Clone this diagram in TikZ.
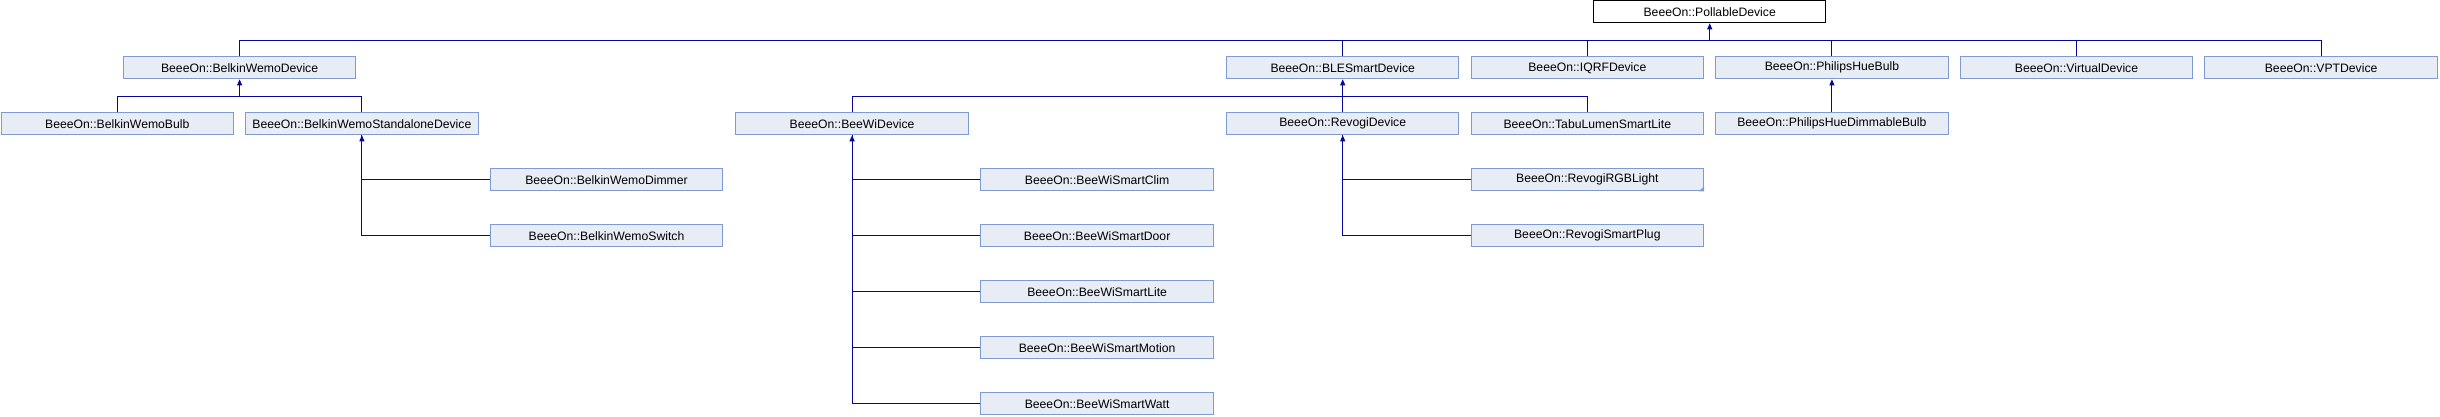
\documentclass[tikz,border=0pt]{standalone}
\usepackage{fontspec}
\setmainfont{Liberation Sans}
\usepackage{tikz}
\usetikzlibrary{arrows.meta}
\definecolor{kfill}{HTML}{E8ECF5}
\definecolor{krand}{HTML}{7F9AD0}
\definecolor{linie}{HTML}{06069C}
\tikzset{
  klasse/.style={draw=krand,fill=kfill,line width=1pt,minimum width=232.5pt,minimum height=22pt,inner sep=0pt,
    font=\fontsize{12.2}{14}\selectfont},
  basis/.style={klasse,draw=black,fill=white},
  verb/.style={linie,line width=1pt},
  erbt/.style={verb,-{Triangle[length=6pt,width=5pt]}},
}
\begin{document}
\begin{tikzpicture}[x=1pt,y=-1pt]
  \useasboundingbox (0,0) rectangle (2440,416);
  % Basisklasse
  \node[basis] (PollableDevice) at (1709.7,11.8) {BeeeOn::PollableDevice};
  % erste Ebene
  \node[klasse] (BelkinWemoDevice) at (239.6,67.8) {BeeeOn::BelkinWemoDevice};
  \node[klasse] (BLESmartDevice) at (1342.7,67.8) {BeeeOn::BLESmartDevice};
  \node[klasse] (IQRFDevice) at (1587.3,67.8) {BeeeOn::IQRFDevice};
  \node[klasse] (PhilipsHueBulb) at (1831.9,67.8) {BeeeOn::PhilipsHueBulb};
  \node[klasse] (VirtualDevice) at (2076.5,67.8) {BeeeOn::VirtualDevice};
  \node[klasse] (VPTDevice) at (2321.1,67.8) {BeeeOn::VPTDevice};
  % zweite Ebene
  \node[klasse] (BelkinWemoBulb) at (117.3,123.8) {BeeeOn::BelkinWemoBulb};
  \node[klasse] (BelkinWemoStandaloneDevice) at (361.9,123.8) {BeeeOn::BelkinWemoStandaloneDevice};
  \node[klasse] (BeeWiDevice) at (852.1,123.8) {BeeeOn::BeeWiDevice};
  \node[klasse] (RevogiDevice) at (1342.7,123.8) {BeeeOn::RevogiDevice};
  \node[klasse] (TabuLumenSmartLite) at (1587.3,123.8) {BeeeOn::TabuLumenSmartLite};
  \node[klasse] (PhilipsHueDimmableBulb) at (1831.9,123.8) {BeeeOn::PhilipsHueDimmableBulb};
  % Blaetter
  \node[klasse] (BelkinWemoDimmer) at (606.5,179.8) {BeeeOn::BelkinWemoDimmer};
  \node[klasse] (BelkinWemoSwitch) at (606.5,235.8) {BeeeOn::BelkinWemoSwitch};
  \node[klasse] (BeeWiSmartClim) at (1097.1,179.8) {BeeeOn::BeeWiSmartClim};
  \node[klasse] (BeeWiSmartDoor) at (1097.1,235.8) {BeeeOn::BeeWiSmartDoor};
  \node[klasse] (BeeWiSmartLite) at (1097.1,291.8) {BeeeOn::BeeWiSmartLite};
  \node[klasse] (BeeWiSmartMotion) at (1097.1,347.8) {BeeeOn::BeeWiSmartMotion};
  \node[klasse] (BeeWiSmartWatt) at (1097.1,403.8) {BeeeOn::BeeWiSmartWatt};
  \node[klasse] (RevogiRGBLight) at (1587.3,179.8) {BeeeOn::RevogiRGBLight};
  \node[klasse] (RevogiSmartPlug) at (1587.3,235.8) {BeeeOn::RevogiSmartPlug};
  \fill[krand] (RevogiRGBLight.south east) -- ++(-5,0) -- ++(5,-5) -- cycle;
  % Sammelschienen
  \coordinate (busPoll) at (1709.7,40.3);
  \coordinate (busBelkin) at (239.6,96.3);
  \coordinate (busBLE) at (1342.7,96.3);
  % Vererbung PollableDevice
  \draw[erbt] (busPoll) -- (PollableDevice);
  \foreach \k in {BelkinWemoDevice,BLESmartDevice,IQRFDevice,PhilipsHueBulb,VirtualDevice,VPTDevice}
    \draw[verb] (\k) |- (busPoll);
  % Vererbung BelkinWemoDevice
  \draw[erbt] (busBelkin) -- (BelkinWemoDevice);
  \draw[verb] (BelkinWemoBulb) |- (busBelkin);
  \draw[verb] (BelkinWemoStandaloneDevice) |- (busBelkin);
  % Vererbung BLESmartDevice
  \draw[erbt] (busBLE) -- (BLESmartDevice);
  \draw[verb] (BeeWiDevice) |- (busBLE);
  \draw[verb] (RevogiDevice) |- (busBLE);
  \draw[verb] (TabuLumenSmartLite) |- (busBLE);
  % PhilipsHue
  \draw[erbt] (PhilipsHueDimmableBulb) -- (PhilipsHueBulb);
  % senkrechte Baeume
  \draw[erbt] (BelkinWemoSwitch) -| (BelkinWemoStandaloneDevice);
  \draw[verb] (BelkinWemoDimmer) -| (BelkinWemoStandaloneDevice);
  \draw[erbt] (BeeWiSmartWatt) -| (BeeWiDevice);
  \foreach \k in {BeeWiSmartClim,BeeWiSmartDoor,BeeWiSmartLite,BeeWiSmartMotion}
    \draw[verb] (\k) -| (BeeWiDevice);
  \draw[erbt] (RevogiSmartPlug) -| (RevogiDevice);
  \draw[verb] (RevogiRGBLight) -| (RevogiDevice);
\end{tikzpicture}
\end{document}
